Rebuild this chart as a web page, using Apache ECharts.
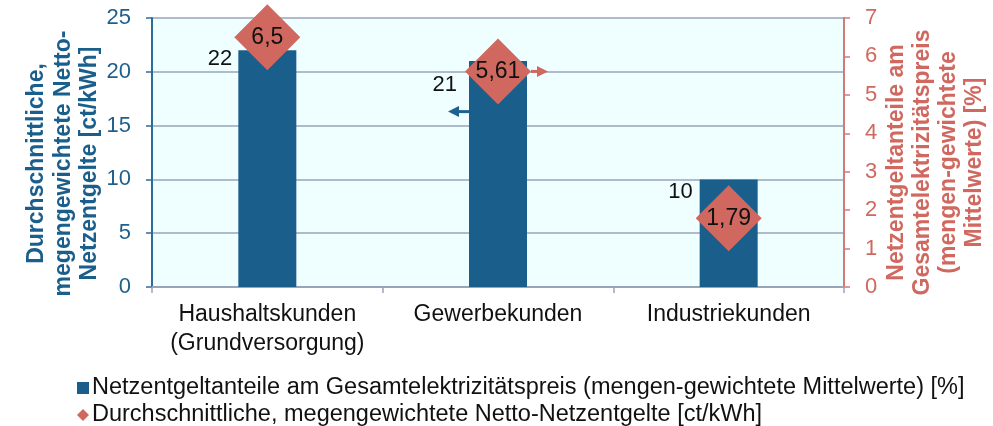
<!DOCTYPE html>
<html>
<head>
<meta charset="utf-8">
<script src="https://cdn.jsdelivr.net/npm/echarts@6/dist/echarts.min.js"></script>
<style>
  html, body { margin: 0; padding: 0; background: #fff; overflow: hidden; }
  #chart { width: 993px; height: 426px; }
</style>
</head>
<body>
<div id="chart"></div>
<script>
// Kundengruppen
var categories = ["Haushaltskunden\n(Grundversorgung)", "Gewerbekunden", "Industriekunden"];
// Balken, linke Achse [ct/kWh]
var barValues = [22, 21, 10];
// Rauten, rechte Achse [%]
var diamondValues = [6.5, 5.61, 1.79];
var leftTicks = { min: 0, max: 25, interval: 5 };
var rightTicks = { min: 0, max: 7, interval: 1 };

var barName = "Netzentgeltanteile am Gesamtelektrizitätspreis (mengen-gewichtete Mittelwerte) [%]";
var diamondName = "Durchschnittliche, megengewichtete Netto-Netzentgelte [ct/kWh]";

var blue = "#1a5e8c";
var red = "#d0685f";
var font = "Liberation Sans, Arial, sans-serif";

// label offsets of the bar values (left of the bar)
var barLabelPos = [[-6, 9], [-12, 24], [-7, 13]];

var chart = echarts.init(document.getElementById("chart"));

var legendText = { fontSize: 23.5, color: "#111", fontFamily: font, padding: [0, 0, 0, -2] };

var option = {
  animation: false,
  textStyle: { fontFamily: font },
  grid: {
    left: 152, right: 149, top: 18, bottom: 139,
    outerBoundsMode: "none",
    containLabel: false,
    show: true, backgroundColor: "#effeff", borderWidth: 0
  },
  legend: [
    {
      left: 72, top: 371,
      itemWidth: 12, itemHeight: 12,
      textStyle: legendText,
      data: [{ name: barName, icon: "rect" }]
    },
    {
      left: 72, top: 398,
      itemWidth: 12, itemHeight: 12,
      textStyle: legendText,
      data: [{ name: diamondName, icon: "diamond" }]
    }
  ],
  xAxis: {
    type: "category",
    data: categories,
    axisLine: { lineStyle: { color: "#9aa4b8", width: 2 } },
    axisTick: { show: true, length: 6, lineStyle: { color: "#9aa4b8", width: 1.5 } },
    axisLabel: { interval: 0, fontSize: 23, color: "#111", margin: 13, lineHeight: 29, fontFamily: font },
    splitLine: { show: false }
  },
  yAxis: [
    {
      type: "value",
      min: leftTicks.min, max: leftTicks.max, interval: leftTicks.interval,
      name: "Durchschnittliche,\nmegengewichtete Netto-\nNetzentgelte [ct/kWh]",
      nameLocation: "middle",
      nameRotate: 90,
      nameGap: 49,
      nameMoveOverlap: false,
      nameTextStyle: {
        fontSize: 23, fontWeight: "bold", color: blue, lineHeight: 26.5, fontFamily: font,
        padding: [0, 22, 0, 0]
      },
      axisLine: { show: true, lineStyle: { color: "#2a6d9c", width: 2 } },
      axisTick: { show: true, length: 6, lineStyle: { color: "#2a6d9c", width: 1.5 } },
      axisLabel: { fontSize: 22, color: "#1f5f8c", margin: 21, fontFamily: font },
      splitLine: { show: true, lineStyle: { color: "#9aa4b8", width: 1.5 } }
    },
    {
      type: "value",
      position: "right",
      min: rightTicks.min, max: rightTicks.max, interval: rightTicks.interval,
      name: "Netzentgeltanteile am\nGesamtelektrizitätspreis\n(mengen-gewichtete\nMittelwerte) [%]",
      nameLocation: "middle",
      nameRotate: 90,
      nameGap: 40,
      nameMoveOverlap: false,
      nameTextStyle: {
        fontSize: 23, fontWeight: "bold", color: red, lineHeight: 26, fontFamily: font,
        padding: [0, 20, 0, 0]
      },
      axisLine: { show: true, lineStyle: { color: "#d47a74", width: 2 } },
      axisTick: { show: true, length: 6, lineStyle: { color: "#d47a74", width: 1.5 } },
      axisLabel: { fontSize: 22, color: red, margin: 21, fontFamily: font },
      splitLine: { show: false }
    }
  ],
  series: [
    {
      name: barName,
      type: "bar",
      yAxisIndex: 0,
      barWidth: 58,
      itemStyle: { color: blue },
      data: barValues.map(function (v, i) {
        return {
          value: v,
          label: {
            show: true,
            position: barLabelPos[i],
            align: "right",
            verticalAlign: "middle",
            fontSize: 22,
            color: "#111",
            fontFamily: font
          }
        };
      }),
      z: 2
    },
    {
      name: diamondName,
      type: "scatter",
      yAxisIndex: 1,
      symbol: "diamond",
      symbolSize: 66,
      itemStyle: { color: red, opacity: 1 },
      label: {
        show: true,
        position: "inside",
        fontSize: 23,
        color: "#111",
        fontFamily: font,
        formatter: function (p) { return String(p.value).replace(".", ","); }
      },
      data: diamondValues,
      z: 3
    }
  ]
};

chart.setOption(option);

// Pfeile: blau -> linke Achse, rot -> rechte Achse
function arrow(tipX, y, dir, len, color) {
  var head = 11;
  var baseX = tipX - dir * head;
  return [
    {
      type: "line",
      shape: { x1: baseX, y1: y, x2: baseX - dir * (len - head), y2: y },
      style: { stroke: color, lineWidth: 3 },
      z: 10
    },
    {
      type: "polygon",
      shape: { points: [[tipX, y], [baseX, y - 5.5], [baseX, y + 5.5]] },
      style: { fill: color },
      z: 10
    }
  ];
}

var bluePt = chart.convertToPixel({ xAxisIndex: 0, yAxisIndex: 0 }, [1, 16.3]);
var redPt = chart.convertToPixel({ xAxisIndex: 0, yAxisIndex: 1 }, [1, diamondValues[1]]);
var barEdge = bluePt[0] - 29;
var diamondEdge = redPt[0] + 33;

chart.setOption({
  graphic: arrow(barEdge - 21, bluePt[1], -1, 21, "#1d6190")
    .concat(arrow(diamondEdge + 17, redPt[1], 1, 17, red))
});
</script>
</body>
</html>
